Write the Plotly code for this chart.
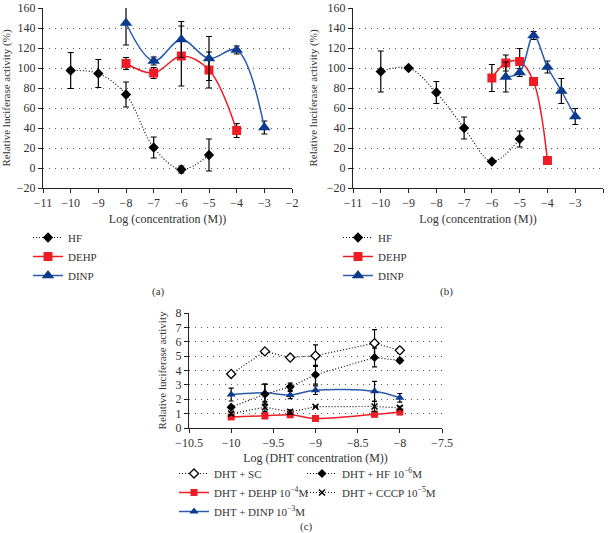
import plotly.graph_objects as go

# ---- panel (a) ----
hf_x_a = [-10, -9, -8, -7, -6, -5]
hf_y_a = [97.5, 94.5, 73.5, 20.5, -1.5, 13]
hf_e_a = [18, 14, 12.5, 10.5, 3.5, 16]
dehp_x_a = [-8, -7, -6, -5, -4]
dehp_y_a = [104.5, 95, 112, 98, 37.5]
dehp_e_a = [6, 5.5, 30, 18, 7]
dinp_x_a = [-8, -7, -6, -5, -4, -3]
dinp_y_a = [145, 107, 128.5, 109.5, 118, 40.5]
dinp_e_a = [22, 4, 18, 22, 4, 6.5]

# ---- panel (b) ----
hf_x_b = [-10, -9, -8, -7, -6, -5]
hf_y_b = [96.5, 100, 75.5, 40, 6.5, 29]
hf_e_b = [20.5, 1.5, 11, 11, 1.5, 8]
dehp_x_b = [-6, -5.5, -5, -4.5, -4]
dehp_y_b = [90, 105, 106.5, 86.5, 7.5]
dehp_e_b = [13.5, 8, 13, 2, 3.5]
dinp_x_b = [-5.5, -5, -4.5, -4, -3.5, -3]
dinp_y_b = [91, 95.5, 132.5, 101, 77, 51.5]
dinp_e_b = [15, 4, 4, 6, 12.5, 8]

# ---- panel (c) ----
dht_x = [-10, -9.6, -9.3, -9, -8.3, -8]
sc_y = [3.76, 5.33, 4.9, 5.03, 5.9, 5.4]
sc_e = [0.05, 0.05, 0.05, 0.75, 0.95, 0.2]
hf_y = [1.45, 2.35, 2.87, 3.7, 4.9, 4.7]
hf_e = [0.1, 0.7, 0.25, 0.65, 0.65, 0.15]
dehp_y = [0.77, 0.85, 0.92, 0.66, 0.95, 1.12]
dehp_e = [0.1, 0.2, 0.1, 0.05, 0.15, 0.2]
dinp_y = [2.33, 2.45, 2.3, 2.63, 2.55, 2.1]
dinp_e = [0.45, 0.6, 0.25, 0.3, 0.7, 0.3]
cccp_y = [1.0, 1.45, 1.12, 1.48, 1.5, 1.4]
cccp_e = [0.1, 0.3, 0.15, 0.05, 0.35, 0.1]

FONT = "Liberation Serif"
RED = "#ee1c25"
BLUE_LINE = "#2a5caa"
BLUE_MK = "#0f3b8f"
DOTS = "1px,2px"


def err(vals, w=3):
    return dict(type="data", array=vals, visible=True, color="black", thickness=1.2, width=w)


def series(x, y, e, name, kind, xa, ya, legend, shape="spline", msize=None, ew=3):
    if kind == "hf":
        line = dict(color="#111", width=1.2, dash=DOTS, shape=shape, smoothing=1)
        marker = dict(symbol="diamond", color="black", size=msize or 8)
    elif kind == "dehp":
        line = dict(color=RED, width=1.5, shape=shape, smoothing=1)
        marker = dict(symbol="square", color=RED, size=msize or 9)
    elif kind == "dinp":
        line = dict(color=BLUE_LINE, width=1.5, shape=shape, smoothing=1)
        marker = dict(symbol="triangle-up", color=BLUE_MK, size=msize or 11)
    elif kind == "sc":
        line = dict(color="#111", width=1.2, dash=DOTS, shape=shape)
        marker = dict(symbol="diamond", color="white", size=msize or 7, line=dict(width=1.3, color="black"))
    else:  # cccp
        line = dict(color="#111", width=1.2, dash=DOTS, shape=shape)
        marker = dict(symbol="x-thin-open", color="black", size=msize or 6, line=dict(width=1.5, color="black"))
    return go.Scatter(x=x, y=y, error_y=err(e, ew), name=name, mode="lines+markers",
                      line=line, marker=marker, xaxis=xa, yaxis=ya, legend=legend)


fig = go.Figure()

# panel (a)
fig.add_trace(series(hf_x_a, hf_y_a, hf_e_a, "HF", "hf", "x", "y", "legend"))
fig.add_trace(series(dehp_x_a, dehp_y_a, dehp_e_a, "DEHP", "dehp", "x", "y", "legend"))
fig.add_trace(series(dinp_x_a, dinp_y_a, dinp_e_a, "DINP", "dinp", "x", "y", "legend"))

# panel (b)
fig.add_trace(series(hf_x_b, hf_y_b, hf_e_b, "HF", "hf", "x2", "y2", "legend2"))
fig.add_trace(series(dehp_x_b, dehp_y_b, dehp_e_b, "DEHP", "dehp", "x2", "y2", "legend2"))
fig.add_trace(series(dinp_x_b, dinp_y_b, dinp_e_b, "DINP", "dinp", "x2", "y2", "legend2"))

# panel (c) - two legend columns
fig.add_trace(series(dht_x, sc_y, sc_e, "DHT + SC", "sc", "x3", "y3", "legend3", shape="linear", ew=2.5))
fig.add_trace(series(dht_x, dehp_y, dehp_e, "DHT + DEHP 10<sup>−4</sup>M", "dehp", "x3", "y3", "legend3", msize=7, ew=2.5))
fig.add_trace(series(dht_x, dinp_y, dinp_e, "DHT + DINP 10<sup>−3</sup>M", "dinp", "x3", "y3", "legend3", msize=8, ew=2.5))
fig.add_trace(series(dht_x, hf_y, hf_e, "DHT + HF 10<sup>−6</sup>M", "hf", "x3", "y3", "legend4", shape="linear", msize=7, ew=2.5))
fig.add_trace(series(dht_x, cccp_y, cccp_e, "DHT + CCCP 10<sup>−5</sup>M", "cccp", "x3", "y3", "legend4", shape="linear", ew=2.5))

tickfont = dict(family=FONT, size=12, color="#333")
xtitlefont = dict(family=FONT, size=12, color="#333")
ytitlefont = dict(family=FONT, size=11, color="#333")


def xax(domain, anchor, rng, dtick, title, standoff):
    return dict(domain=domain, anchor=anchor, range=rng, dtick=dtick, showline=True, linecolor="#222",
                linewidth=1, ticks="outside", ticklen=4, tickcolor="#222", showgrid=False, zeroline=False,
                tickfont=tickfont, title=dict(text=title, font=xtitlefont, standoff=standoff),
                automargin=False)


def yax(domain, anchor, rng, dtick, title, standoff):
    return dict(domain=domain, anchor=anchor, range=rng, dtick=dtick, showline=True, linecolor="#222",
                linewidth=1, ticks="outside", ticklen=4, tickcolor="#222", showgrid=True,
                gridcolor="#555", gridwidth=1, griddash="1px,5px", zeroline=False,
                tickfont=tickfont, title=dict(text=title, font=ytitlefont, standoff=standoff),
                automargin=False)


ya_dom = [1 - 188 / 533, 1 - 8 / 533]
yc_dom = [1 - 428 / 533, 1 - 313 / 533]

leg_common = dict(font=dict(family=FONT, size=11, color="#333"), bgcolor="rgba(0,0,0,0)",
                  xanchor="left", yanchor="top", orientation="v", itemwidth=30)

fig.update_layout(
    width=608, height=533,
    margin=dict(l=0, r=0, t=0, b=0),
    paper_bgcolor="white", plot_bgcolor="white",
    font=dict(family=FONT, color="#333"),
    xaxis=xax([43 / 608, 292 / 608], "y", [-11, -2], 1, "Log (concentration (M))", 5),
    yaxis=yax(ya_dom, "x", [-20, 160], 20, "Relative luciferase activity (%)", 6),
    xaxis2=xax([353 / 608, 603 / 608], "y2", [-11, -2], 1, "Log (concentration (M))", 5),
    yaxis2=yax(ya_dom, "x2", [-20, 160], 20, "Relative luciferase activity (%)", 6),
    xaxis3=xax([189 / 608, 442 / 608], "y3", [-10.5, -7.5], 0.5, "Log (DHT concentration (M))", 4),
    yaxis3=yax(yc_dom, "x3", [0, 8], 1, "Relative luciferase activity", 6),
    legend=dict(x=28 / 608, y=1 - 223 / 533, **leg_common),
    legend2=dict(x=338 / 608, y=1 - 223 / 533, **leg_common),
    legend3=dict(x=174 / 608, y=1 - 459 / 533, **leg_common),
    legend4=dict(x=302 / 608, y=1 - 459 / 533, **leg_common),
    showlegend=True,
    annotations=[
        dict(text="(a)", x=150 / 608, y=1 - 291 / 533, xref="paper", yref="paper", showarrow=False,
             yanchor="middle", font=dict(family=FONT, size=11, color="#333")),
        dict(text="(b)", x=455 / 608, y=1 - 291 / 533, xref="paper", yref="paper", showarrow=False,
             yanchor="middle", font=dict(family=FONT, size=11, color="#333")),
        dict(text="(c)", x=306 / 608, y=1 - 526 / 533, xref="paper", yref="paper", showarrow=False,
             yanchor="middle", font=dict(family=FONT, size=11, color="#333")),
    ],
)

fig.write_html("out.html", config={"displayModeBar": False},
               post_script="document.body.style.margin='0';document.body.style.overflow='hidden';")
